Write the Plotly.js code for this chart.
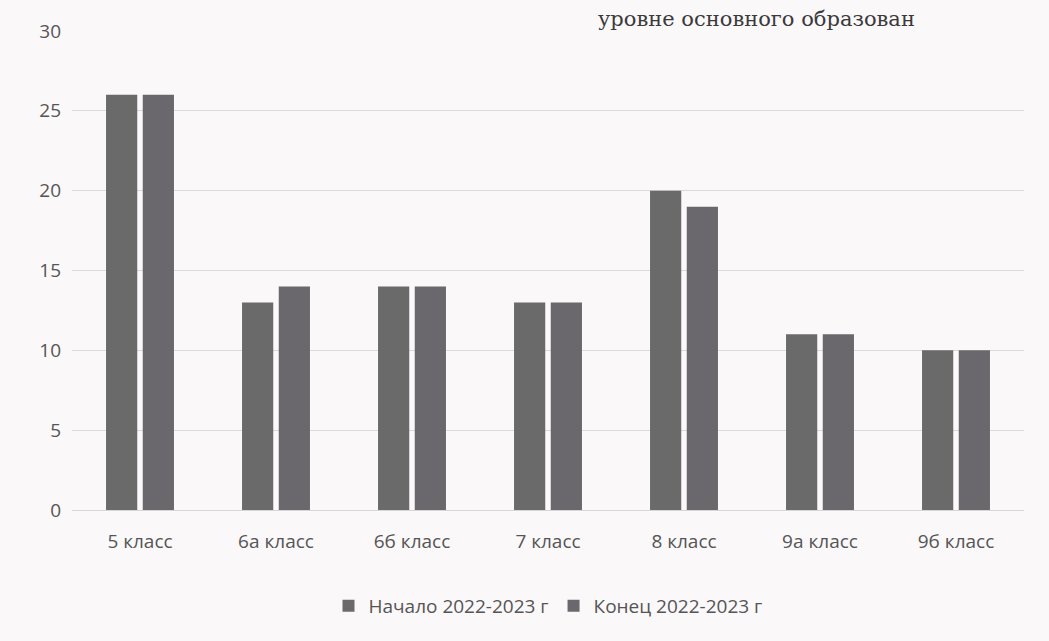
<!DOCTYPE html>
<html>
<head>
<meta charset="utf-8">
<script src="https://cdn.plot.ly/plotly-3.0.1.min.js"></script>
<style>
html,body{margin:0;padding:0;background:#fbf8fa;}
#chart{width:1049px;height:641px;}
</style>
</head>
<body>
<div id="chart"></div>
<script>
var categories = ["5 класс", "6а класс", "6б класс", "7 класс", "8 класс", "9а класс", "9б класс"];
var seriesNames = ["Начало 2022-2023 г", "Конец 2022-2023 г"];
var startValues = [26, 13, 14, 13, 20, 11, 10];
var endValues = [26, 14, 14, 13, 19, 11, 10];
var yTicks = [0, 5, 10, 15, 20, 25, 30];

var traces = [
  {type: "bar", name: seriesNames[0], x: categories, y: startValues,
   marker: {color: "#6b6a6b"}, hoverinfo: "x+y"},
  {type: "bar", name: seriesNames[1], x: categories, y: endValues,
   marker: {color: "#6a686d"}, hoverinfo: "x+y"}
];

var layout = {
  width: 1049, height: 641,
  paper_bgcolor: "#fbf8fa", plot_bgcolor: "#fbf8fa",
  margin: {l: 72, r: 25, t: 31, b: 131},
  barmode: "group", bargap: 0.46, bargroupgap: 0.15,
  font: {family: "Open Sans, sans-serif", color: "#555555", size: 19},
  xaxis: {type: "category", showgrid: false, showline: true, linecolor: "#d6d6d6",
          ticks: "", tickfont: {size: 19, color: "#555555"}, ticklabelstandoff: 14},
  yaxis: {range: [0, 30], tickvals: yTicks, showgrid: true, gridcolor: "#d9d9d9",
          zeroline: false, showline: false, ticks: "", tickfont: {size: 19, color: "#555555"},
          ticklabelstandoff: 10},
  showlegend: true,
  legend: {orientation: "h", x: 0.5, xanchor: "center", y: -0.2, yanchor: "middle",
           font: {size: 19, color: "#555555"}, itemwidth: 30, traceorder: "normal"},
  annotations: [
    {text: "уровне основного образован", xref: "paper", yref: "paper", x: 0.55, y: 1, xanchor: "left",
     yanchor: "bottom", yshift: -2, showarrow: false,
     font: {family: "DejaVu Serif, serif", size: 21, color: "#3a3a3a"}}
  ]
};

Plotly.newPlot("chart", traces, layout, {displayModeBar: false});
</script>
</body>
</html>
